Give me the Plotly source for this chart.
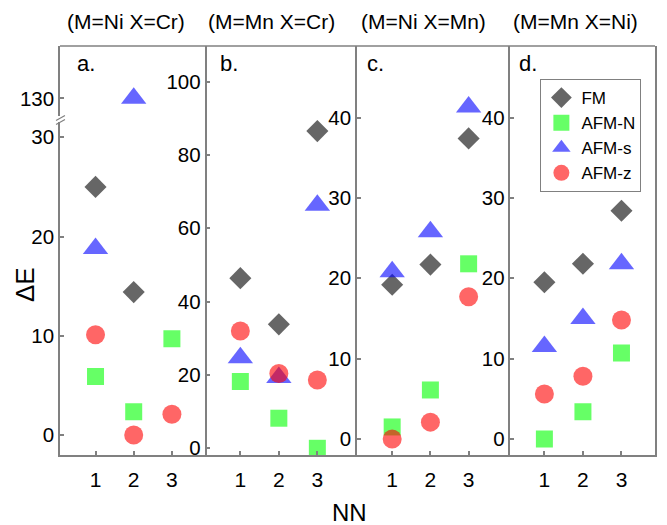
import plotly.graph_objects as go

# ---------------- data ----------------
nn = [1, 2, 3]
nn_ticks = ["1", "2", "3"]

series_names = ["FM", "AFM-N", "AFM-s", "AFM-z"]

# panel a (M=Ni X=Cr)
fm_a = [25.0, 14.4, None]
afmn_a = [5.9, 2.35, 9.7]
afms_a = [18.8, 130.0, None]
afmz_a = [10.1, 0.0, 2.1]

# panel b (M=Mn X=Cr)
fm_b = [46.4, 33.8, 86.5]
afmn_b = [18.2, 8.2, 0.0]
afms_b = [24.7, 19.3, 66.3]
afmz_b = [32.0, 20.4, 18.6]

# panel c (M=Ni X=Mn)
fm_c = [19.2, 21.7, 37.4]
afmn_c = [1.5, 6.1, 21.8]
afms_c = [20.8, 25.8, 41.3]
afmz_c = [0.0, 2.1, 17.7]

# panel d (M=Mn X=Ni)
fm_d = [19.5, 21.8, 28.4]
afmn_d = [0.0, 3.4, 10.7]
afms_d = [11.5, 15.0, 21.8]
afmz_d = [5.6, 7.8, 14.8]

panel_titles = ["(M=Ni X=Cr)", "(M=Mn X=Cr)", "(M=Ni X=Mn)", "(M=Mn X=Ni)"]
panel_letters = ["a.", "b.", "c.", "d."]

ticks_a_low = [0, 10, 20, 30]
ticks_a_high = [130]
ticks_b = [0, 20, 40, 60, 80, 100]
ticks_c = [0, 10, 20, 30, 40]
ticks_d = [0, 10, 20, 30, 40]

# ---------------- styling ----------------
FONT = "Arial, Liberation Sans, sans-serif"
AX = "#808080"
styles = {
    "FM": dict(symbol="diamond", size=17, color="#000000"),
    "AFM-N": dict(symbol="square", size=17, color="#00ff00"),
    "AFM-s": dict(symbol="triangle-up", size=22, color="#0000ff"),
    "AFM-z": dict(symbol="circle", size=19, color="#ff0000"),
}

# page body adds an 8px margin; work in screen pixels and compensate
OFF = 8
W, H = 667 - OFF, 525 - OFF
PL, PR, PT, PB = 60, 657, 46, 455          # plot box in screen pixels
L, T = PL - OFF, PT - OFF
R = W - (PR - OFF)
B = H - (PB - OFF)
PW, PH = PR - PL, PB - PT


def px_x(p):
    return (p - PL) / PW


def px_y(p):
    return (PB - p) / PH


# panel edges in screen pixels
edges = [60, 207, 358, 512, 657]
doms = [[px_x(edges[i]), px_x(edges[i + 1])] for i in range(4)]

fig = go.Figure()

panels = [
    ("x", "y", [fm_a, afmn_a, afms_a, afmz_a]),
    ("x2", "y2", [fm_b, afmn_b, afms_b, afmz_b]),
    ("x3", "y3", [fm_c, afmn_c, afms_c, afmz_c]),
    ("x4", "y4", [fm_d, afmn_d, afms_d, afmz_d]),
]

for pi, (xa, ya, data) in enumerate(panels):
    yaxes = [ya] if pi != 0 else ["y", "y5"]
    for yy in yaxes:
        for name, vals in zip(series_names, data):
            st = styles[name]
            fig.add_trace(go.Scatter(
                x=nn, y=vals, mode="markers", name=name,
                xaxis=xa, yaxis=yy,
                legendgroup=name,
                showlegend=(pi == 3),
                marker=dict(symbol=st["symbol"], size=st["size"],
                            color=st["color"], opacity=0.6,
                            line=dict(width=0)),
                hoverinfo="x+y",
            ))

axis_common = dict(showline=True, linecolor=AX, linewidth=1.5,
                   ticks="inside", ticklen=4, tickwidth=1.5, tickcolor=AX,
                   showgrid=False, zeroline=False,
                   tickfont=dict(family=FONT, size=20.5, color="black"))

xranges = [[0.07, 3.906], [0.121, 4.03], [0.08, 4.095], [0.12, 3.87]]
for i in range(4):
    key = "xaxis" if i == 0 else f"xaxis{i+1}"
    yanchor = "y" if i == 0 else f"y{i+1}"
    d = dict(axis_common)
    d.update(domain=doms[i], range=xranges[i], anchor=yanchor,
             tickvals=nn, ticktext=nn_ticks,
             tickfont=dict(family=FONT, size=21, color="black"),
             ticklabelstandoff=5)
    fig.layout[key] = d

low_top = px_y(122)
high_bot = px_y(116)

fig.layout["yaxis"] = dict(axis_common, domain=[0, low_top], range=[-2.01, 31.54],
                           anchor="x", tickvals=ticks_a_low)
fig.layout["yaxis5"] = dict(axis_common, domain=[high_bot, 1], range=[128.22, 135.27],
                            anchor="x", tickvals=ticks_a_high)
fig.layout["yaxis2"] = dict(axis_common, domain=[0, 1], range=[-1.83, 109.7],
                            anchor="x2", tickvals=ticks_b)
fig.layout["yaxis3"] = dict(axis_common, domain=[0, 1], range=[-1.99, 48.9],
                            anchor="x3", tickvals=ticks_c)
fig.layout["yaxis4"] = dict(axis_common, domain=[0, 1], range=[-1.99, 48.9],
                            anchor="x4", tickvals=ticks_d, mirror=True)

shapes = [
    # top frame line
    dict(type="line", xref="paper", yref="paper", x0=0, x1=1, y0=1, y1=1,
         line=dict(color=AX, width=1.5)),
    # axis break marks
    dict(type="line", xref="paper", yref="paper",
         x0=px_x(56), y0=px_y(120.5), x1=px_x(65), y1=px_y(115.5),
         line=dict(color=AX, width=1.2)),
    dict(type="line", xref="paper", yref="paper",
         x0=px_x(56), y0=px_y(124.5), x1=px_x(65), y1=px_y(119.5),
         line=dict(color=AX, width=1.2)),
]

annotations = []
title_centers = [126.5, 272.5, 424.5, 577.5]
for t, cx in zip(panel_titles, title_centers):
    annotations.append(dict(text=t, xref="paper", yref="paper",
                            x=px_x(cx), y=px_y(22), xanchor="center", yanchor="middle",
                            showarrow=False, font=dict(family=FONT, size=21, color="black")))
letter_x = [75, 219, 366, 519]
for t, lx in zip(panel_letters, letter_x):
    annotations.append(dict(text=t, xref="paper", yref="paper",
                            x=px_x(lx), y=px_y(64), xanchor="left", yanchor="middle",
                            showarrow=False, font=dict(family=FONT, size=22, color="black")))
annotations.append(dict(text="ΔE", xref="paper", yref="paper",
                        x=px_x(25), y=px_y(285), xanchor="center", yanchor="middle",
                        textangle=-90, showarrow=False,
                        font=dict(family=FONT, size=26, color="black")))
annotations.append(dict(text="NN", xref="paper", yref="paper",
                        x=px_x(350), y=px_y(512), xanchor="center", yanchor="middle",
                        showarrow=False, font=dict(family=FONT, size=24, color="black")))

fig.update_layout(
    width=W, height=H,
    margin=dict(l=L, r=R, t=T, b=B, pad=0),
    paper_bgcolor="white", plot_bgcolor="white",
    shapes=shapes, annotations=annotations,
    showlegend=True,
    legend=dict(x=px_x(542), y=px_y(79), xanchor="left", yanchor="top",
                bgcolor="white", bordercolor=AX, borderwidth=1,
                font=dict(family=FONT, size=17, color="black"),
                itemsizing="trace", tracegroupgap=0),
)

fig.write_html("out.html")
